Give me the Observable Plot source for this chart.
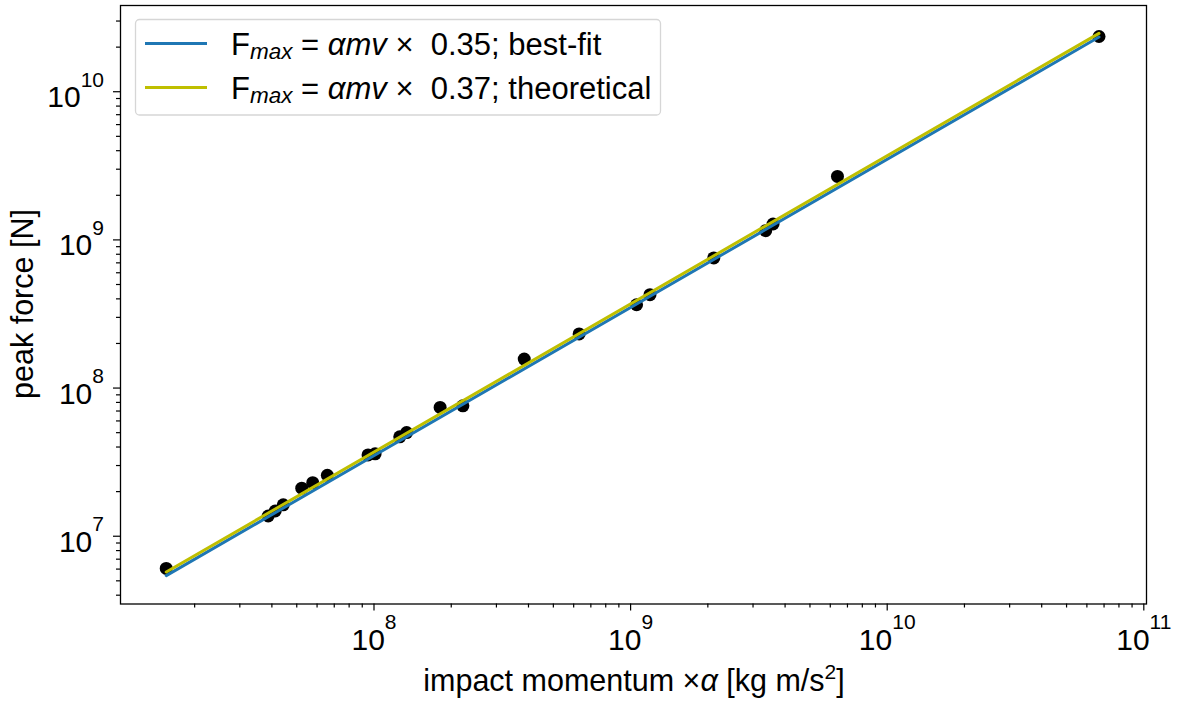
<!DOCTYPE html>
<html>
<head>
<meta charset="utf-8">
<script src="https://cdn.jsdelivr.net/npm/d3@7"></script>
<script src="https://cdn.jsdelivr.net/npm/@observablehq/plot@0.6"></script>
<style>
  html, body { margin: 0; padding: 0; background: white; }
  #chart { width: 1177px; height: 702px; }
</style>
</head>
<body>
<div id="chart"></div>
<script>
// impact momentum × α [kg m/s²]
const momentum = [1.55e7, 3.87e7, 4.12e7, 4.43e7, 5.23e7, 5.77e7, 6.58e7, 9.48e7, 1.01e8, 1.26e8, 1.34e8,
  1.81e8, 2.22e8, 3.85e8, 6.30e8, 1.055e9, 1.19e9, 2.11e9, 3.36e9, 3.59e9, 6.40e9, 6.69e10];
// peak force [N]
const force = [6.06e6, 1.37e7, 1.48e7, 1.63e7, 2.11e7, 2.30e7, 2.58e7, 3.54e7, 3.60e7, 4.69e7, 5.01e7,
  7.40e7, 7.59e7, 1.57e8, 2.32e8, 3.65e8, 4.27e8, 7.56e8, 1.155e9, 1.28e9, 2.68e9, 2.36e10];
// fit coefficients (from legend)
const seriesNames = ["best-fit", "theoretical"];
const seriesCoef = [0.35, 0.37];
const seriesColors = ["#1f77b4", "#bfbf00"];
// tick values
const majorX = [1e8, 1e9, 1e10, 1e11];
const majorY = [1e7, 1e8, 1e9, 1e10];

const minorX = [];
for (const d of [1e7, 1e8, 1e9, 1e10]) for (let k = 2; k <= 9; k++) minorX.push(k * d);
const minorY = [];
for (const d of [1e6, 1e7, 1e8, 1e9, 1e10]) for (let k = 2; k <= 9; k++) minorY.push(k * d);

const points = momentum.map((m, i) => ({m, f: force[i]}));
const [xmin, xmax] = d3.extent(momentum);
const lines = seriesNames.map((name, i) => [xmin, xmax].map(x => ({x, y: seriesCoef[i] * x, name})));

const FONT = "'Liberation Sans', Arial, Helvetica, sans-serif";
const FS = 30.5;
const xDom = [10 ** 7.0121, 10 ** 11.0105];
const yDom = [10 ** 6.5426, 10 ** 10.582];
const inDomY = v => v >= yDom[0] && v <= yDom[1];
const inDomX = v => v >= xDom[0] && v <= xDom[1];

const svg = Plot.plot({
  width: 1177,
  height: 702,
  marginLeft: 120,
  marginRight: 31,
  marginTop: 5,
  marginBottom: 98.5,
  style: {fontFamily: FONT, fontSize: "30px", color: "black", background: "white", overflow: "visible"},
  x: {type: "log", domain: xDom, label: null},
  y: {type: "log", domain: yDom, label: null},
  marks: [
    Plot.axisX(minorX.filter(inDomX), {tickSize: 4, strokeWidth: 1.2, tickFormat: () => "", label: null}),
    Plot.axisX(majorX, {tickSize: 7, strokeWidth: 1.2, tickPadding: 38.5, fontSize: 30,
      tickFormat: d => String(Math.round(Math.log10(d))), label: null}),
    Plot.axisY(minorY.filter(inDomY), {tickSize: 4, strokeWidth: 1.2, tickFormat: () => "", label: null}),
    Plot.axisY(majorY, {tickSize: 7, strokeWidth: 1.2, tickPadding: 9.5, fontSize: 30,
      tickFormat: d => String(Math.round(Math.log10(d))), label: null}),
    Plot.dot(points, {x: "m", y: "f", r: 6.5, fill: "black", stroke: null}),
    ...lines.map((ln, i) => Plot.line(ln, {x: "x", y: "y", stroke: seriesColors[i], strokeWidth: 3})),
    Plot.frame({stroke: "black", strokeWidth: 1.3})
  ]
});

document.getElementById("chart").appendChild(svg);

const NS = "http://www.w3.org/2000/svg";
function tspan(parent, txt, attrs = {}) {
  const t = document.createElementNS(NS, "tspan");
  for (const [k, v] of Object.entries(attrs)) t.setAttribute(k, v);
  t.textContent = txt;
  parent.appendChild(t);
  return t;
}
function powerLabel(t) {
  const e = t.textContent;
  t.textContent = "";
  tspan(t, "10");
  tspan(t, e, {"font-size": "21px", dy: "-20.5"});
}

svg.querySelectorAll('[aria-label="x-axis tick label"] text').forEach(t => {
  if (!t.textContent) return;
  powerLabel(t);
  t.setAttribute("y", "0");
});
svg.querySelectorAll('[aria-label="y-axis tick label"] text').forEach(t => {
  if (!t.textContent) return;
  powerLabel(t);
  t.setAttribute("y", "15.5");
});

const root = d3.select(svg);

// axis labels
const xl = root.append("text")
  .attr("x", 634).attr("y", 691)
  .attr("text-anchor", "middle")
  .attr("font-family", FONT).attr("font-size", FS).attr("fill", "black")
  .style("white-space", "pre");
xl.append("tspan").text("impact momentum ×");
xl.append("tspan").attr("font-style", "italic").text("α");
xl.append("tspan").text(" [kg m/s");
xl.append("tspan").attr("font-size", 21).attr("dy", -12).text("2");
xl.append("tspan").attr("dy", 12).text("]");

root.append("text")
  .attr("transform", "translate(33,304) rotate(-90)")
  .attr("text-anchor", "middle")
  .attr("font-family", FONT).attr("font-size", FS).attr("fill", "black")
  .text("peak force [N]");

// legend
const LFS = 31;
const lg = root.append("g").attr("font-family", FONT).attr("font-size", LFS).attr("text-anchor", "start");
lg.append("rect")
  .attr("x", 135.5).attr("y", 19.5).attr("width", 525).attr("height", 95.5)
  .attr("rx", 4).attr("fill", "white").attr("fill-opacity", 0.8)
  .attr("stroke", "#d6d6d6").attr("stroke-width", 1.3);
seriesNames.forEach((name, i) => {
  const cy = 43.5 + i * 44;
  lg.append("line").attr("x1", 145).attr("x2", 207).attr("y1", cy).attr("y2", cy)
    .attr("stroke", seriesColors[i]).attr("stroke-width", 3);
  const t = lg.append("text").attr("x", 231).attr("y", cy + 11.5).attr("fill", "black")
    .attr("text-anchor", "start").style("white-space", "pre");
  t.append("tspan").text("F");
  t.append("tspan").attr("font-style", "italic").attr("font-size", 22.5).attr("dy", 4).text("max");
  t.append("tspan").attr("dy", -4).text(" = ");
  t.append("tspan").attr("font-style", "italic").text("αmv");
  t.append("tspan").text(" ×  " + seriesCoef[i].toFixed(2) + "; " + name);
});
</script>
</body>
</html>
